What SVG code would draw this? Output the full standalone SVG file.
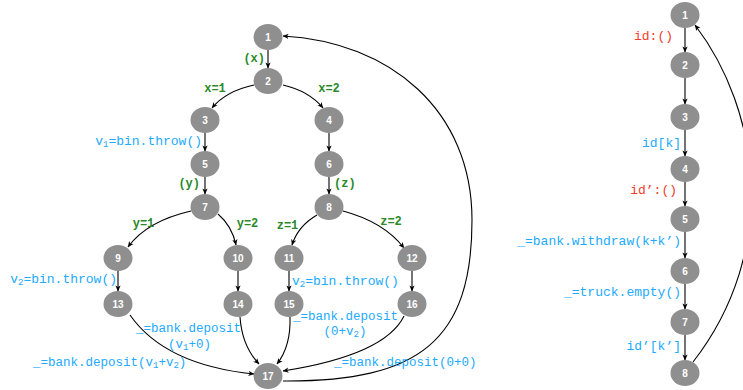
<svg xmlns="http://www.w3.org/2000/svg" width="743" height="390" viewBox="0 0 743 390">
<style>
.nd ellipse{fill:#8f8f8f}
.nd text{font-family:"Liberation Sans",Arial,sans-serif;font-weight:bold;font-size:10px;fill:#fff;text-anchor:middle}
.e path{fill:none;stroke:#000;stroke-width:1.1;marker-end:url(#ah)}
.g{font-family:"Liberation Mono","Courier New",monospace;font-weight:bold;font-size:12px;fill:#2a8a2a}
.b{font-family:"Liberation Mono","Courier New",monospace;font-size:13px;fill:#22aaff}
.bd{font-family:"Liberation Mono","Courier New",monospace;font-size:12.5px;fill:#22aaff}
.r{font-family:"Liberation Mono","Courier New",monospace;font-size:13px;fill:#f03c2a}
.sub{font-size:9px}
.m{text-anchor:middle}
.en{text-anchor:end}
</style>
<defs>
<marker id="ah" viewBox="0 0 8 8" refX="7.5" refY="4" markerWidth="6" markerHeight="6" orient="auto" markerUnits="userSpaceOnUse">
<path d="M0,0.5 L8,4 L0,7.5 L2.2,4 z" fill="#000"/>
</marker>
</defs>

<g id="edges" class="e">
<path d="M268,50 L268,68"/>
<path d="M254,85 Q226,91 212,108"/>
<path d="M283,85 Q309,91 323,108"/>
<path d="M205,133 L205,151"/>
<path d="M329,133 L329,151"/>
<path d="M205,177 L205,194"/>
<path d="M329,177 L329,194"/>
<path d="M191,211 Q147,221 128,247"/>
<path d="M218,214 Q232,226 236,245"/>
<path d="M317,215 Q298,226 292,245"/>
<path d="M343,211 Q384,222 404,248"/>
<path d="M118,271 L118,291"/>
<path d="M238,271 L238,291"/>
<path d="M289,271 L289,291"/>
<path d="M412,271 L412,291"/>
<path d="M130,315 Q165,365 254,374"/>
<path d="M240,317 Q242,346 259,364"/>
<path d="M290,317 Q291,346 277,364"/>
<path d="M404,316 Q385,355 283,371"/>
<path d="M283,381 C420,382 472,340 472,220 C472,110 390,42 283,36"/>

<path d="M685,28 L685,52"/>
<path d="M685,78 L685,104"/>
<path d="M685,130 L685,156"/>
<path d="M685,182 L685,206"/>
<path d="M685,232 L685,258"/>
<path d="M685,284 L685,309"/>
<path d="M685,335 L685,360"/>
<path d="M693,362 C780,250 760,110 695,25"/>
</g>

<g id="n1" class="nd"><ellipse cx="268" cy="37" rx="14.5" ry="13"/><text x="268" y="40.5">1</text></g>
<g id="n2" class="nd"><ellipse cx="268" cy="81" rx="14.5" ry="13"/><text x="268" y="84.5">2</text></g>
<g id="n3" class="nd"><ellipse cx="205" cy="120" rx="14.5" ry="13"/><text x="205" y="123.5">3</text></g>
<g id="n4" class="nd"><ellipse cx="329" cy="120" rx="14.5" ry="13"/><text x="329" y="123.5">4</text></g>
<g id="n5" class="nd"><ellipse cx="205" cy="164" rx="14.5" ry="13"/><text x="205" y="167.5">5</text></g>
<g id="n6" class="nd"><ellipse cx="329" cy="164" rx="14.5" ry="13"/><text x="329" y="167.5">6</text></g>
<g id="n7" class="nd"><ellipse cx="205" cy="207" rx="14.5" ry="13"/><text x="205" y="210.5">7</text></g>
<g id="n8" class="nd"><ellipse cx="329" cy="207" rx="14.5" ry="13"/><text x="329" y="210.5">8</text></g>
<g id="n9" class="nd"><ellipse cx="118" cy="258" rx="14.5" ry="13"/><text x="118" y="261.5">9</text></g>
<g id="n10" class="nd"><ellipse cx="238" cy="258" rx="14.5" ry="13"/><text x="238" y="261.5">10</text></g>
<g id="n11" class="nd"><ellipse cx="289" cy="258" rx="14.5" ry="13"/><text x="289" y="261.5">11</text></g>
<g id="n12" class="nd"><ellipse cx="412" cy="258" rx="14.5" ry="13"/><text x="412" y="261.5">12</text></g>
<g id="n13" class="nd"><ellipse cx="118" cy="304" rx="14.5" ry="13"/><text x="118" y="307.5">13</text></g>
<g id="n14" class="nd"><ellipse cx="238" cy="304" rx="14.5" ry="13"/><text x="238" y="307.5">14</text></g>
<g id="n15" class="nd"><ellipse cx="289" cy="304" rx="14.5" ry="13"/><text x="289" y="307.5">15</text></g>
<g id="n16" class="nd"><ellipse cx="412" cy="304" rx="14.5" ry="13"/><text x="412" y="307.5">16</text></g>
<g id="n17" class="nd"><ellipse cx="268" cy="376" rx="14.5" ry="13"/><text x="268" y="379.5">17</text></g>

<g id="r1" class="nd"><ellipse cx="685" cy="15" rx="14.5" ry="13"/><text x="685" y="18.5">1</text></g>
<g id="r2" class="nd"><ellipse cx="685" cy="65" rx="14.5" ry="13"/><text x="685" y="68.5">2</text></g>
<g id="r3" class="nd"><ellipse cx="685" cy="117" rx="14.5" ry="13"/><text x="685" y="120.5">3</text></g>
<g id="r4" class="nd"><ellipse cx="685" cy="169" rx="14.5" ry="13"/><text x="685" y="172.5">4</text></g>
<g id="r5" class="nd"><ellipse cx="685" cy="219" rx="14.5" ry="13"/><text x="685" y="222.5">5</text></g>
<g id="r6" class="nd"><ellipse cx="685" cy="271" rx="14.5" ry="13"/><text x="685" y="274.5">6</text></g>
<g id="r7" class="nd"><ellipse cx="685" cy="322" rx="14.5" ry="13"/><text x="685" y="325.5">7</text></g>
<g id="r8" class="nd"><ellipse cx="685" cy="373" rx="14.5" ry="13"/><text x="685" y="376.5">8</text></g>

<g id="labels">
<text class="g en" x="265" y="62">(x)</text>
<text class="g m" x="215" y="92">x=1</text>
<text class="g m" x="329" y="92">x=2</text>
<text class="g en" x="200" y="187">(y)</text>
<text class="g" x="334" y="187">(z)</text>
<text class="g m" x="143.5" y="227">y=1</text>
<text class="g m" x="247.5" y="227">y=2</text>
<text class="g m" x="287.5" y="229">z=1</text>
<text class="g m" x="391" y="225">z=2</text>

<text class="b en" x="202" y="145">v<tspan class="sub" dy="2">1</tspan><tspan dy="-2">=bin.throw()</tspan></text>
<text class="b en" x="117" y="283">v<tspan class="sub" dy="2">2</tspan><tspan dy="-2">=bin.throw()</tspan></text>
<text class="b" x="292" y="285">v<tspan class="sub" dy="2">2</tspan><tspan dy="-2">=bin.throw()</tspan></text>
<text class="bd m" x="188.5" y="332">_=bank.deposit</text>
<text class="bd m" x="189.5" y="348">(v<tspan class="sub" dy="2">1</tspan><tspan dy="-2">+0)</tspan></text>
<text class="bd" x="33" y="366">_=bank.deposit(v<tspan class="sub" dy="2">1</tspan><tspan dy="-2">+v</tspan><tspan class="sub" dy="2">2</tspan><tspan dy="-2">)</tspan></text>
<text class="bd m" x="345.5" y="320">_=bank.deposit</text>
<text class="bd m" x="345" y="335">(0+v<tspan class="sub" dy="2">2</tspan><tspan dy="-2">)</tspan></text>
<text class="bd" x="334" y="366">_=bank.deposit(0+0)</text>

<text class="r en" x="673" y="40">id:()</text>
<text class="b en" x="681" y="147">id[k]</text>
<text class="r en" x="677" y="194">id’:()</text>
<text class="b en" x="681" y="245">_=bank.withdraw(k+k’)</text>
<text class="b en" x="681" y="296">_=truck.empty()</text>
<text class="b en" x="681" y="350">id’[k’]</text>
</g>
</svg>
